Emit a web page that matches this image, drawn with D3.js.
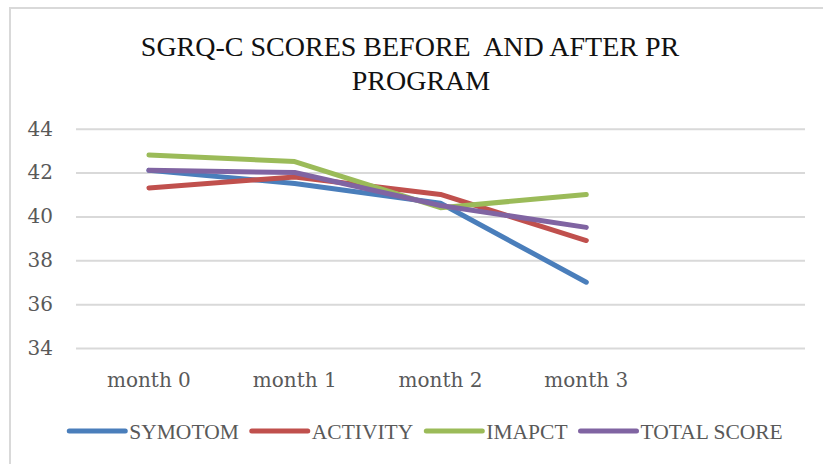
<!DOCTYPE html>
<html>
<head>
<meta charset="utf-8">
<script src="https://cdn.jsdelivr.net/npm/d3@7"></script>
<style>
  body { margin: 0; background: #fff; }
  .y-axis text, .x-axis text { font-family: "DejaVu Serif", serif; font-size: 20px; fill: #595959; }
  .legend text { font-family: "Liberation Serif", "Times New Roman", serif; font-size: 21.5px; fill: #595959; }
  .title { font-family: "Liberation Serif", "Times New Roman", serif; font-size: 28px; fill: #111; white-space: pre; }
</style>
</head>
<body>
<div id="chart"></div>
<script>
// data
var months = ["month 0", "month 1", "month 2", "month 3"];
var yTicks = [34, 36, 38, 40, 42, 44];
var symotom = [42.1, 41.5, 40.6, 37.0];
var activity = [41.3, 41.8, 41.0, 38.9];
var imapct = [42.8, 42.5, 40.4, 41.0];
var totalScore = [42.1, 42.0, 40.5, 39.5];

var seriesNames = ["SYMOTOM", "ACTIVITY", "IMAPCT", "TOTAL SCORE"];
var seriesColors = ["#4a7ebb", "#c0504d", "#9bbb59", "#8064a2"];
var seriesValues = [symotom, activity, imapct, totalScore];

var W = 823, H = 464;
var plot = {left: 76, right: 805, top: 128.7, bottom: 348};

var svg = d3.select("#chart").append("svg")
    .attr("width", W)
    .attr("height", H);

// chart area border (runs off the right/bottom of the picture)
svg.append("rect")
    .attr("x", 10)
    .attr("y", 8)
    .attr("width", 840)
    .attr("height", 480)
    .attr("fill", "#fff")
    .attr("stroke", "#d9d9d9")
    .attr("stroke-width", 2);

// title
svg.append("text")
    .attr("class", "title")
    .attr("x", 410)
    .attr("y", 56)
    .attr("text-anchor", "middle")
    .text("SGRQ-C SCORES BEFORE  AND AFTER PR");

svg.append("text")
    .attr("class", "title")
    .attr("x", 421)
    .attr("y", 90)
    .attr("text-anchor", "middle")
    .text("PROGRAM");

// scales - one empty slot after month 3
var x = d3.scaleBand()
    .domain(months.concat([""]))
    .range([plot.left, plot.right]);

var y = d3.scaleLinear()
    .domain([34, 44])
    .range([plot.bottom, plot.top]);

var yAxis = d3.axisLeft(y)
    .tickValues(yTicks)
    .tickSize(-(plot.right - plot.left))
    .tickPadding(23);

var yAxisGroup = svg.append("g")
    .attr("class", "y-axis")
    .attr("transform", "translate(" + plot.left + ",0)")
    .call(yAxis);

yAxisGroup.select(".domain").remove();
yAxisGroup.selectAll("line")
    .attr("stroke", "#d9d9d9")
    .attr("stroke-width", 2);

var xAxis = d3.axisBottom(x)
    .tickSize(0)
    .tickPadding(25);

var xAxisGroup = svg.append("g")
    .attr("class", "x-axis")
    .attr("transform", "translate(0," + plot.bottom + ")")
    .call(xAxis);

xAxisGroup.select(".domain").remove();

// lines
var line = d3.line()
    .x(function(d, i) { return x(months[i]) + x.bandwidth() / 2; })
    .y(function(d) { return y(d); });

svg.selectAll("path.series")
    .data(seriesValues)
    .enter()
    .append("path")
    .attr("class", "series")
    .attr("d", line)
    .attr("fill", "none")
    .attr("stroke", function(d, i) { return seriesColors[i]; })
    .attr("stroke-width", 5)
    .attr("stroke-linecap", "round")
    .attr("stroke-linejoin", "round");

// legend
var legend = svg.append("g").attr("class", "legend");
var swatch = 56, gap = 4, itemGap = 13, legendY = 431;

var items = legend.selectAll("g")
    .data(seriesNames)
    .enter()
    .append("g");

items.append("line")
    .attr("x1", 0)
    .attr("x2", swatch)
    .attr("y1", 0)
    .attr("y2", 0)
    .attr("stroke", function(d, i) { return seriesColors[i]; })
    .attr("stroke-width", 5)
    .attr("stroke-linecap", "round");

items.append("text")
    .attr("x", swatch + gap)
    .attr("y", 7.5)
    .text(function(d) { return d; });

var offsets = [], pos = 0;
items.each(function() {
    offsets.push(pos);
    pos += swatch + gap + d3.select(this).select("text").node().getComputedTextLength() + itemGap;
});
var total = pos - itemGap;
var startX = 426 - total / 2;

items.attr("transform", function(d, i) {
    return "translate(" + (startX + offsets[i]) + "," + legendY + ")";
});
</script>
</body>
</html>
